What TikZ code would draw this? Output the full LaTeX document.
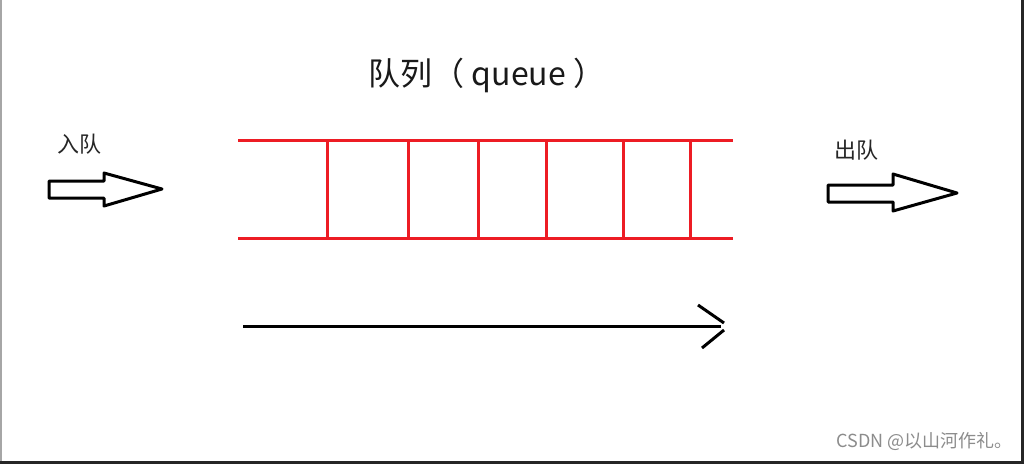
\documentclass[tikz,border=0pt]{standalone}
\usepackage{fontspec}
\newfontfamily\cjk{Noto Sans CJK SC}
\definecolor{qred}{HTML}{ED1C24}
\definecolor{wmgray}{HTML}{8C8C8C}
\begin{document}
\begin{tikzpicture}[x=1pt,y=-1pt,
  redline/.style={draw=qred,line width=3pt},
  blockarrow/.style={draw=black,line width=3pt,line join=round,fill=white},
  label/.style={font=\cjk\fontsize{22}{22}\selectfont,text=black!85,inner sep=0pt},
  flowline/.style={draw=black,line width=3pt}]
\useasboundingbox (0,0) rectangle (1024,464);
\fill[white] (0,0) rectangle (1024,464);
% frame edges
\fill[gray!70] (0,0) rectangle (1.5,461);
\fill[black!85] (1021,0) rectangle (1024,464);
\fill[black!85] (0,461) rectangle (1024,464);
% title
\node[font=\cjk\fontsize{32}{32}\selectfont,text=black!90,inner sep=0pt] (title) at (487,75) {队列（ queue ）};
% queue rails
\coordinate (tl) at (238,140);
\coordinate (tr) at (733,140);
\coordinate (bl) at (238,238);
\coordinate (br) at (733,238);
\draw[redline] (tl) -- (tr);
\draw[redline] (bl) -- (br);
\foreach \x/\n in {327/a,408/b,478/c,546/d,623/e,690/f}{
  \coordinate (v\n t) at (\x,140);
  \coordinate (v\n b) at (\x,240);
  \draw[redline] (v\n t) -- (v\n b);
}
% enqueue
\node[label] (enq) at (79,144) {入队};
\draw[blockarrow] (49,181) -- (104,181) -- (104,173) -- (162,189) -- (104,206) -- (104,198) -- (49,198) -- cycle;
% dequeue
\node[label] (deq) at (856,150) {出队};
\draw[blockarrow] (828,185) -- (893,185) -- (893,174) -- (957,193) -- (893,211) -- (893,202) -- (828,202) -- cycle;
% direction arrow
\coordinate (fs) at (243,326);
\coordinate (fe) at (721,326);
\coordinate (h1) at (698,305);
\coordinate (h2) at (724,323);
\coordinate (h3) at (724,330);
\coordinate (h4) at (702,348);
\draw[flowline] (fs) -- (fe);
\draw[flowline] (h1) -- (h2);
\draw[flowline] (h3) -- (h4);
% watermark
\node[font=\cjk\fontsize{18}{18}\selectfont,text=wmgray,anchor=east,inner sep=0pt] (wm) at (1013,441) {CSDN @以山河作礼。};
\end{tikzpicture}
\end{document}
